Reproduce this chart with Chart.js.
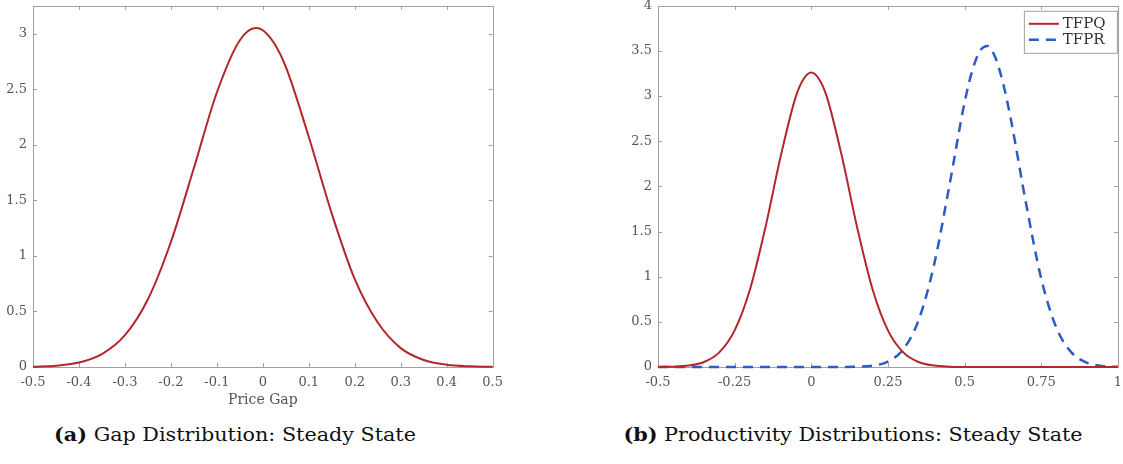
<!DOCTYPE html>
<html>
<head>
<meta charset="utf-8">
<script src="https://cdn.jsdelivr.net/npm/chart.js@4.4.0/dist/chart.umd.min.js"></script>
<style>
body { margin: 0; background: #fff; width: 1123px; height: 464px; position: relative; overflow: hidden; font-family: "DejaVu Serif", serif; }
.box { position: absolute; top: -8px; height: 420px; }
.cap { position: absolute; top: 424px; font-size: 18px; color: #111; white-space: nowrap; transform: translateX(-50%) scaleX(1.15); }
</style>
</head>
<body>
<div class="box" style="left:0;width:511px"><canvas id="gap"></canvas></div>
<div class="box" style="left:615px;width:515px"><canvas id="prod"></canvas></div>
<div class="cap" style="left:235px"><b>(a)</b> Gap Distribution: Steady State</div>
<div class="cap" style="left:853px"><b>(b)</b> Productivity Distributions: Steady State</div>
<script>
// Panel (a): price gap density
const gapX = [-0.5, -0.45, -0.4, -0.35, -0.3, -0.25, -0.2, -0.15, -0.1, -0.05, -0.015, 0, 0.025, 0.05, 0.1, 0.15, 0.2, 0.25, 0.3, 0.35, 0.4, 0.45, 0.5];
const gapY = [0.003, 0.012, 0.04, 0.116, 0.286, 0.61, 1.125, 1.79, 2.47, 2.94, 3.05, 3.03, 2.91, 2.70, 2.07, 1.38, 0.79, 0.40, 0.17, 0.063, 0.02, 0.006, 0.002];
const gapTicksX = [-0.5, -0.4, -0.3, -0.2, -0.1, 0, 0.1, 0.2, 0.3, 0.4, 0.5];
const gapTicksY = [0, 0.5, 1, 1.5, 2, 2.5, 3];

// Panel (b): productivity densities
const tfpqX = [-0.5, -0.45, -0.4, -0.35, -0.3, -0.25, -0.2, -0.15, -0.1, -0.05, -0.025, 0, 0.025, 0.05, 0.1, 0.15, 0.2, 0.25, 0.3, 0.35, 0.4, 0.45, 0.5, 0.55, 0.6, 0.65, 0.7, 0.75, 0.8, 0.85, 0.9, 0.95, 1];
const tfpqY = [0.001, 0.004, 0.016, 0.055, 0.162, 0.405, 0.858, 1.54, 2.33, 3.00, 3.19, 3.26, 3.19, 3.00, 2.33, 1.54, 0.858, 0.405, 0.162, 0.055, 0.016, 0.004, 0.001, 0, 0, 0, 0, 0, 0, 0, 0, 0, 0];
const tfprX = [-0.5, -0.4, -0.3, -0.2, -0.1, 0, 0.1, 0.15, 0.2, 0.25, 0.3, 0.35, 0.4, 0.45, 0.5, 0.525, 0.55, 0.575, 0.6, 0.625, 0.65, 0.7, 0.75, 0.8, 0.85, 0.9, 0.95, 1];
const tfprY = [0, 0, 0, 0, 0, 0, 0.0005, 0.003, 0.015, 0.06, 0.196, 0.518, 1.125, 2.00, 2.93, 3.28, 3.50, 3.556, 3.43, 3.15, 2.76, 1.82, 0.98, 0.43, 0.157, 0.046, 0.011, 0.002];
const prodTicksX = [-0.5, -0.25, 0, 0.25, 0.5, 0.75, 1];
const prodTicksY = [0, 0.5, 1, 1.5, 2, 2.5, 3, 3.5, 4];

Chart.defaults.font.family = '"DejaVu Serif", serif';
Chart.defaults.font.size = 13;
Chart.defaults.color = '#555';

const pts = (xs, ys) => xs.map((x, i) => ({ x: x, y: ys[i] }));

// box around the plot with inward ticks on all sides
const framePlugin = {
  id: 'frame',
  beforeDatasetsDraw(chart) {
    const { ctx, chartArea: a, scales: { x, y } } = chart;
    ctx.save();
    ctx.strokeStyle = '#a0a0a0';
    ctx.lineWidth = 1;
    ctx.beginPath();
    ctx.rect(Math.round(a.left) + 0.5, Math.round(a.top) + 0.5, Math.round(a.right - a.left), Math.round(a.bottom - a.top));
    x.ticks.forEach(t => {
      const px = Math.round(x.getPixelForValue(t.value)) + 0.5;
      ctx.moveTo(px, a.bottom); ctx.lineTo(px, a.bottom - 4);
      ctx.moveTo(px, a.top); ctx.lineTo(px, a.top + 4);
    });
    y.ticks.forEach(t => {
      const py = Math.round(y.getPixelForValue(t.value)) + 0.5;
      ctx.moveTo(a.left, py); ctx.lineTo(a.left + 4, py);
      ctx.moveTo(a.right, py); ctx.lineTo(a.right - 4, py);
    });
    ctx.stroke();
    ctx.restore();
  }
};

const boxLegend = {
  id: 'boxLegend',
  afterDatasetsDraw(chart) {
    const { ctx, chartArea: a } = chart;
    const w = 94, h = 43;
    const left = a.right - w, top = a.top + 5;
    ctx.save();
    ctx.fillStyle = '#fff';
    ctx.fillRect(left, top, w, h);
    ctx.strokeStyle = '#a0a0a0';
    ctx.lineWidth = 1;
    ctx.strokeRect(left + 0.5, top + 0.5, w - 1, h - 1);
    ctx.font = '15px "DejaVu Serif", serif';
    ctx.textBaseline = 'middle';
    chart.data.datasets.forEach((ds, i) => {
      const yy = top + 13 + i * 16;
      ctx.strokeStyle = ds.borderColor;
      ctx.lineWidth = ds.borderWidth;
      ctx.setLineDash(ds.borderDash || []);
      ctx.beginPath();
      ctx.moveTo(left + 5, yy); ctx.lineTo(left + 35, yy);
      ctx.stroke();
      ctx.setLineDash([]);
      ctx.fillStyle = '#333';
      ctx.fillText(ds.label, left + 39, yy);
    });
    ctx.restore();
  }
};

function axisX(ticks, min, max, title) {
  return {
    type: 'linear', min: min, max: max,
    grid: { display: false, drawTicks: false },
    border: { display: false },
    ticks: { padding: 8, autoSkip: false, maxRotation: 0, callback: v => String(v) },
    title: title ? { display: true, text: title, font: { size: 14 }, padding: { top: 0, bottom: 3 } } : { display: false },
    afterBuildTicks: s => { s.ticks = ticks.map(v => ({ value: v })); },
    afterFit: s => { s.height = 45; }
  };
}

function axisY(ticks, min, max, width) {
  return {
    type: 'linear', min: min, max: max,
    grid: { display: false, drawTicks: false },
    border: { display: false },
    ticks: { padding: 6, autoSkip: false, callback: v => String(v) },
    afterBuildTicks: s => { s.ticks = ticks.map(v => ({ value: v })); },
    afterFit: s => { s.width = width; }
  };
}

new Chart(document.getElementById('gap'), {
  type: 'line',
  data: {
    datasets: [{
      label: 'Gap',
      data: pts(gapX, gapY),
      borderColor: '#b3262b',
      borderWidth: 2,
      pointRadius: 0,
      cubicInterpolationMode: 'monotone',
      clip: false
    }]
  },
  options: {
    responsive: true,
    maintainAspectRatio: false,
    animation: false,
    layout: { padding: { left: 0, top: 5, right: 12, bottom: 0 } },
    plugins: { legend: { display: false }, tooltip: { enabled: false } },
    scales: {
      x: axisX(gapTicksX, -0.5, 0.5, 'Price Gap'),
      y: axisY(gapTicksY, 0, 3.25, 33)
    }
  },
  plugins: [framePlugin]
});

new Chart(document.getElementById('prod'), {
  type: 'line',
  data: {
    datasets: [{
      label: 'TFPQ',
      data: pts(tfpqX, tfpqY),
      borderColor: '#b3262b',
      borderWidth: 2,
      pointRadius: 0,
      cubicInterpolationMode: 'monotone',
      clip: false
    }, {
      label: 'TFPR',
      data: pts(tfprX, tfprY),
      borderColor: '#2a5cc7',
      borderWidth: 2.5,
      borderDash: [10, 7],
      pointRadius: 0,
      cubicInterpolationMode: 'monotone',
      clip: false
    }]
  },
  options: {
    responsive: true,
    maintainAspectRatio: false,
    animation: false,
    layout: { padding: { left: 0, top: 5, right: 6, bottom: 0 } },
    plugins: { legend: { display: false }, tooltip: { enabled: false } },
    scales: {
      x: axisX(prodTicksX, -0.5, 1, null),
      y: axisY(prodTicksY, 0, 4, 43)
    }
  },
  plugins: [framePlugin, boxLegend]
});
</script>
</body>
</html>
